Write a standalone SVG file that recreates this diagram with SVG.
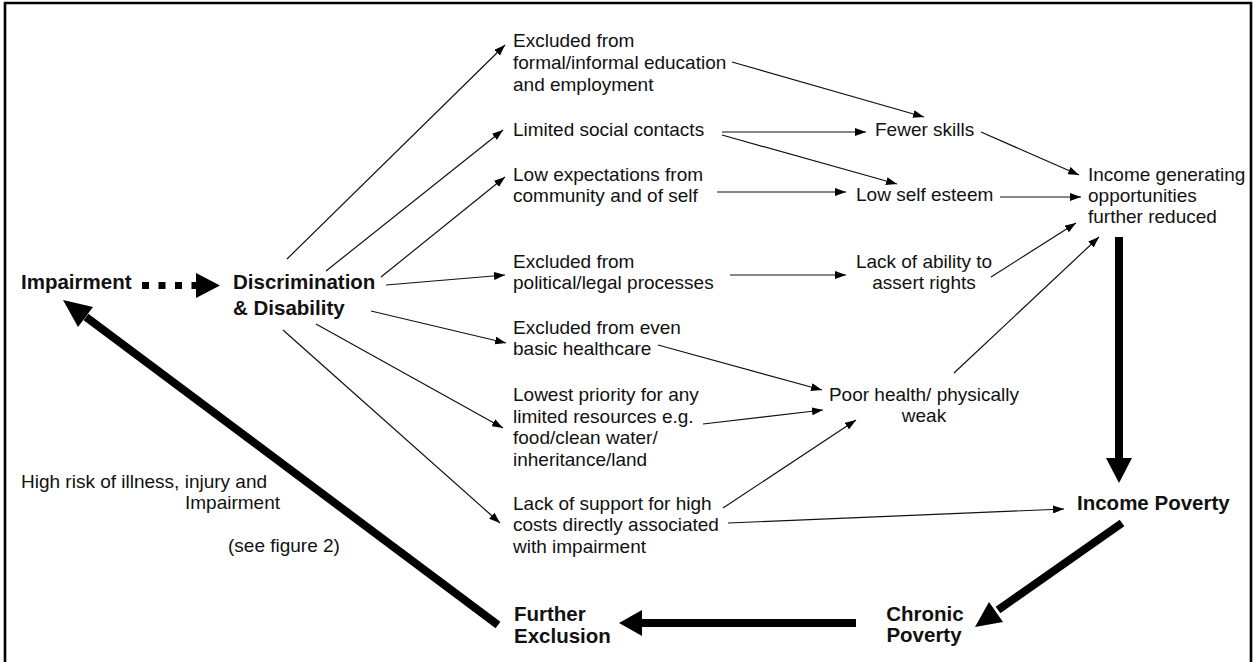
<svg xmlns="http://www.w3.org/2000/svg" width="1254" height="662" viewBox="0 0 1254 662">
<style>
text{font-family:"Liberation Sans",Arial,sans-serif;fill:#111}
.r{font-size:19px}
.b{font-size:20.5px;font-weight:bold}
.m{text-anchor:middle}
.e{text-anchor:end}
.thin{stroke:#111;stroke-width:1.2;fill:none;marker-end:url(#ah)}
.thick{stroke:#000;stroke-width:8;fill:none}
.head{fill:#000}
</style>
<defs>
<marker id="ah" markerUnits="userSpaceOnUse" markerWidth="11" markerHeight="8" refX="11" refY="4" orient="auto">
<path d="M0,0 L11,4 L0,8 z" fill="#000"/>
</marker>
</defs>
<rect width="1254" height="662" fill="#fff"/>
<path d="M5,662 V3 H1251 V662" fill="none" stroke="#000" stroke-width="2.6"/>

<g id="connectors">
<line class="thin" x1="287" y1="259" x2="505" y2="45"/>
<line class="thin" x1="326" y1="271" x2="503" y2="130"/>
<line class="thin" x1="381" y1="277" x2="505" y2="177"/>
<line class="thin" x1="386" y1="285" x2="505" y2="275"/>
<line class="thin" x1="371" y1="311" x2="506" y2="343"/>
<line class="thin" x1="316" y1="324" x2="503" y2="428"/>
<line class="thin" x1="283" y1="330" x2="500" y2="523"/>
<line class="thin" x1="732" y1="62" x2="924" y2="117"/>
<line class="thin" x1="722" y1="132" x2="866" y2="132"/>
<line class="thin" x1="722" y1="135" x2="897" y2="184"/>
<line class="thin" x1="717" y1="192" x2="846" y2="192"/>
<line class="thin" x1="730" y1="275" x2="846" y2="275"/>
<line class="thin" x1="981" y1="132" x2="1079" y2="175"/>
<line class="thin" x1="1000" y1="197" x2="1081" y2="197"/>
<line class="thin" x1="991" y1="277" x2="1076" y2="223"/>
<line class="thin" x1="954" y1="373" x2="1099" y2="237"/>
<line class="thin" x1="658" y1="345" x2="822" y2="390"/>
<line class="thin" x1="703" y1="424" x2="823" y2="410"/>
<line class="thin" x1="723" y1="508" x2="856" y2="420"/>
<line class="thin" x1="728" y1="523" x2="1064" y2="509"/>
<!-- dotted arrow Impairment -> Discrimination -->
<line x1="142" y1="285.5" x2="197" y2="285.5" stroke="#000" stroke-width="7" stroke-dasharray="7 9.5"/>
<polygon class="head" points="196,273 220,285.5 196,298"/>
<!-- thick arrows -->
<line class="thick" x1="1119" y1="237" x2="1119" y2="460"/>
<polygon class="head" points="1106,458 1132,458 1119,483"/>
<line class="thick" x1="1122" y1="523" x2="998" y2="610"/>
<polygon class="head" points="1003,622 989,602 975,627"/>
<line class="thick" x1="856" y1="623" x2="640" y2="623"/>
<polygon class="head" points="642,610 642,636 619,623"/>
<line class="thick" x1="498" y1="625" x2="86" y2="317"/>
<polygon class="head" points="93,307 78,327 63,300"/>
</g>

<g id="impairment"><text class="b" x="21" y="289">Impairment</text></g>
<g id="discrimination"><text class="b" x="233" y="289">Discrimination</text><text class="b" x="233" y="315">&amp; Disability</text></g>

<g id="excl-education"><text class="r" x="513" y="47">Excluded from</text><text class="r" x="513" y="69">formal/informal education</text><text class="r" x="513" y="91">and employment</text></g>
<g id="limited-social"><text class="r" x="513" y="136">Limited social contacts</text></g>
<g id="low-expectations"><text class="r" x="513" y="181">Low expectations from</text><text class="r" x="513" y="202">community and of self</text></g>
<g id="excl-political"><text class="r" x="513" y="268">Excluded from</text><text class="r" x="513" y="289">political/legal processes</text></g>
<g id="excl-health"><text class="r" x="513" y="334">Excluded from even</text><text class="r" x="513" y="355">basic healthcare</text></g>
<g id="lowest-priority"><text class="r" x="513" y="401">Lowest priority for any</text><text class="r" x="513" y="423">limited resources e.g.</text><text class="r" x="513" y="444">food/clean water/</text><text class="r" x="513" y="466">inheritance/land</text></g>
<g id="lack-support"><text class="r" x="513" y="510">Lack of support for high</text><text class="r" x="513" y="531">costs directly associated</text><text class="r" x="513" y="553">with impairment</text></g>

<g id="fewer-skills"><text class="r" x="875" y="136">Fewer skills</text></g>
<g id="low-self-esteem"><text class="r" x="856" y="201">Low self esteem</text></g>
<g id="lack-ability"><text class="r m" x="924" y="268">Lack of ability to</text><text class="r m" x="924" y="289">assert rights</text></g>
<g id="poor-health"><text class="r m" x="924" y="401">Poor health/ physically</text><text class="r m" x="924" y="422">weak</text></g>

<g id="income-generating"><text class="r" x="1088" y="181">Income generating</text><text class="r" x="1088" y="202">opportunities</text><text class="r" x="1088" y="223">further reduced</text></g>
<g id="income-poverty"><text class="b" x="1077" y="510">Income Poverty</text></g>
<g id="chronic-poverty"><text class="b m" x="925" y="621">Chronic</text><text class="b m" x="924" y="642">Poverty</text></g>
<g id="further-exclusion"><text class="b" x="514" y="621">Further</text><text class="b" x="514" y="643">Exclusion</text></g>

<g id="high-risk"><text class="r" x="21" y="488">High risk of illness, injury and</text><text class="r e" x="280" y="509">Impairment</text><text class="r" x="228" y="552">(see figure 2)</text></g>
</svg>
